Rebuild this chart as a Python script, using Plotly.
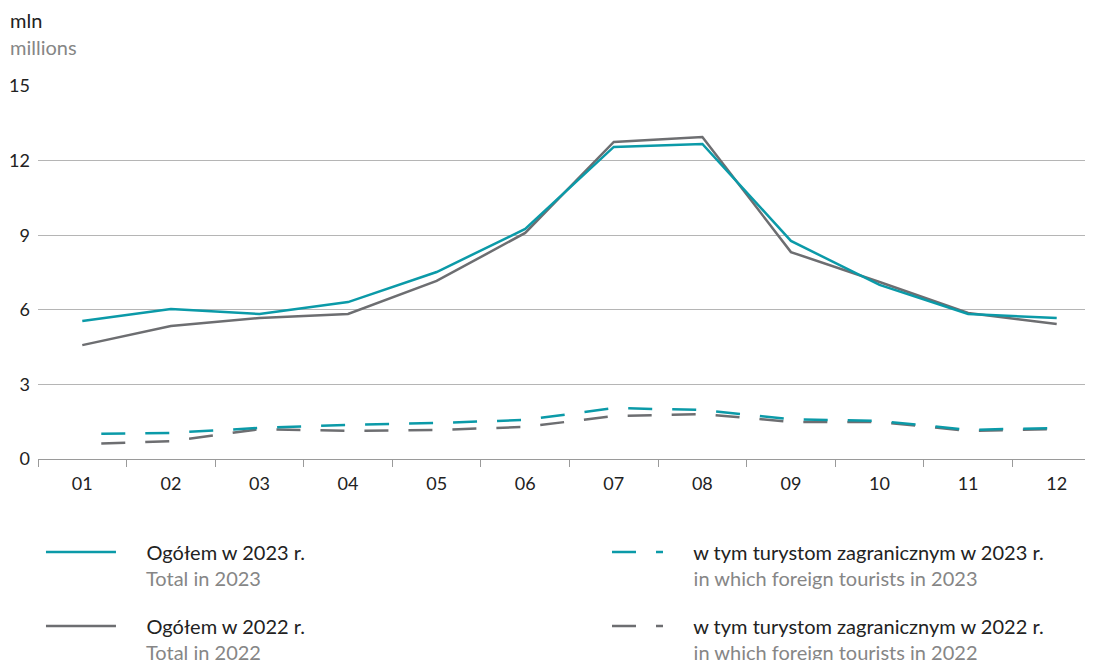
import plotly.graph_objects as go

months = ["01", "02", "03", "04", "05", "06", "07", "08", "09", "10", "11", "12"]
total_2023 = [5.55, 6.03, 5.83, 6.31, 7.52, 9.25, 12.55, 12.67, 8.77, 7.00, 5.83, 5.67]
total_2022 = [4.58, 5.35, 5.67, 5.83, 7.16, 9.09, 12.75, 12.95, 8.32, 7.12, 5.87, 5.43]
foreign_2023 = [1.00, 1.05, 1.25, 1.37, 1.45, 1.57, 2.05, 1.97, 1.60, 1.53, 1.17, 1.25]
foreign_2022 = [0.60, 0.72, 1.20, 1.13, 1.17, 1.29, 1.73, 1.81, 1.49, 1.49, 1.13, 1.20]
y_ticks = [0, 3, 6, 9, 12, 15]

TEAL = "#0b9aa8"
GREY = "#6d6e71"
SUB = "#868686"
TXT = "#222222"
FONT = "Lato"
PAD = "\u00a0" * 5

def name(pl, en):
    return f"{PAD}{pl}<br>{PAD}<span style='color:{SUB}'>{en}</span>"

fig = go.Figure()
fig.add_trace(go.Scatter(x=months, y=foreign_2022, mode="lines",
                         line=dict(color=GREY, width=2.5, dash="0px,19px,24px,1px"),
                         name=name("w tym turystom zagranicznym w 2022 r.", "in which foreign tourists in 2022"),
                         legend="legend2", legendgroup="f22", legendrank=2))
fig.add_trace(go.Scatter(x=months, y=foreign_2023, mode="lines",
                         line=dict(color=TEAL, width=2.5, dash="0px,19px,24px,1px"),
                         name=name("w tym turystom zagranicznym w 2023 r.", "in which foreign tourists in 2023"),
                         legend="legend2", legendgroup="f23", legendrank=1))
fig.add_trace(go.Scatter(x=months, y=total_2022, mode="lines",
                         line=dict(color=GREY, width=2.5),
                         name=name("Ogółem w 2022 r.", "Total in 2022"),
                         legend="legend", legendgroup="t22", legendrank=2))
fig.add_trace(go.Scatter(x=months, y=total_2023, mode="lines",
                         line=dict(color=TEAL, width=2.5),
                         name=name("Ogółem w 2023 r.", "Total in 2023"),
                         legend="legend", legendgroup="t23", legendrank=1))

legend_common = dict(orientation="v", yanchor="top", itemwidth=70, valign="top",
                     traceorder="grouped", tracegroupgap=19, bgcolor="rgba(0,0,0,0)",
                     font=dict(family=FONT, size=20, color=TXT))

fig.update_layout(
    width=1093, height=660,
    margin=dict(l=30, r=0, t=78, b=209, autoexpand=False),
    paper_bgcolor="white", plot_bgcolor="white",
    font=dict(family=FONT, size=18, color=TXT),
    showlegend=True,
    legend=dict(x=0.0028, xanchor="left", y=-0.197, **legend_common),
    legend2=dict(x=0.5174, xanchor="left", y=-0.197, **legend_common),
    xaxis=dict(type="category", range=[-0.5, 11.5], showgrid=False, showline=True,
               linecolor="#9a9a9a", linewidth=1,
               ticks="outside", tickson="boundaries", ticklen=7, tickcolor="#9a9a9a",
               ticklabelstandoff=8,
               tickfont=dict(size=18, color=TXT), fixedrange=True),
    yaxis=dict(range=[0, 15], tickvals=y_ticks, showgrid=True, gridcolor="#b5b5b5", gridwidth=1,
               zeroline=False, showline=False, ticks="", ticklabelstandoff=7,
               tickfont=dict(size=18, color=TXT), fixedrange=True),
    annotations=[
        dict(text="mln", xref="paper", yref="paper", x=-0.0282, y=1.177, xanchor="left", yanchor="middle",
             showarrow=False, font=dict(family=FONT, size=20, color=TXT)),
        dict(text="millions", xref="paper", yref="paper", x=-0.0282, y=1.1046, xanchor="left", yanchor="middle",
             showarrow=False, font=dict(family=FONT, size=20, color=SUB)),
    ],
)

fig.write_html("out.html")
